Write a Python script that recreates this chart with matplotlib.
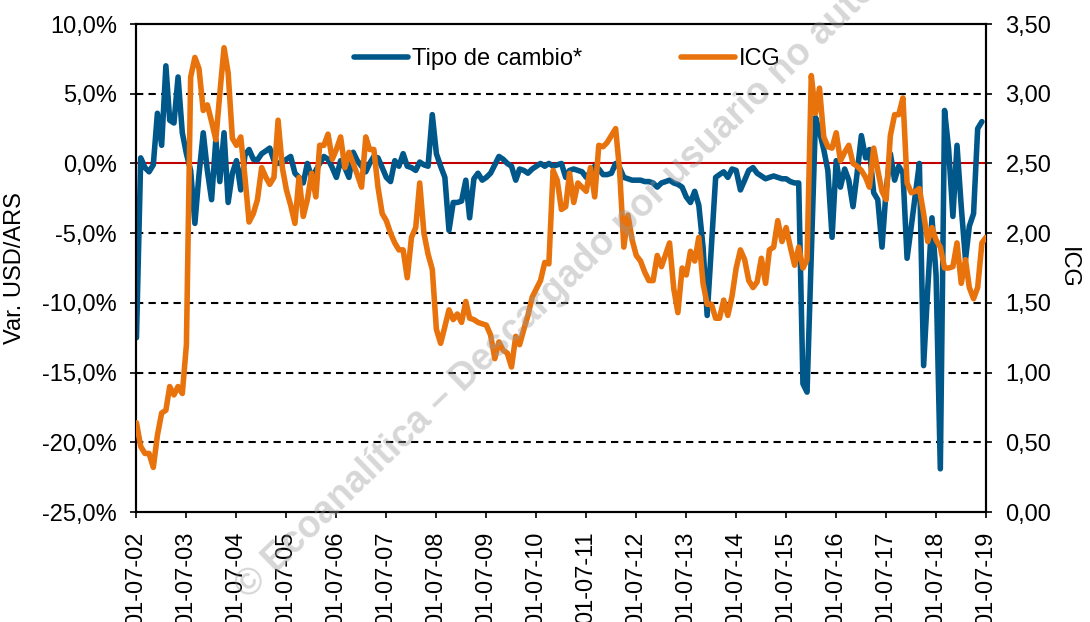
import numpy as np
import pandas as pd
import matplotlib
matplotlib.use("Agg")
import matplotlib.pyplot as plt
import matplotlib.dates as mdates
from matplotlib.ticker import FuncFormatter, MultipleLocator

plt.rcParams['font.family'] = ['Liberation Sans', 'DejaVu Sans']

# ---- data (monthly, starting July 2002) ----
start_date = "2002-07-01"
end_date = "2019-07-01"

tipo_cambio = [
    -12.5, 0.4, -0.3, -0.6, -0.1, 3.6, 1.3, 7.0, 3.1, 2.9,
    6.2, 2.2, 0.7, -0.5, -4.3, -0.8, 2.2, -0.5, -2.6, 1.7,
    -1.3, 2.2, -2.8, -0.7, 0.2, -1.9, 0.6, 1.0, 0.3, 0.25,
    0.7, 0.9, 1.1, 0.2, 0.0, 0.1, 0.3, 0.5, -0.7, -1.0,
    -1.4, 0.0, -1.0, -0.5, 0.0, 0.5, 0.3, -0.3, -1.0, 0.2,
    -0.3, -1.0, 0.8, 0.2, -0.2, -0.6, 0.0, 0.5, 0.4, -0.3,
    -1.0, -1.3, 0.2, -0.2, 0.7, -0.2, -0.3, -0.5, 0.1, -0.1,
    -0.2, 3.5, 0.7, -0.2, -1.0, -4.8, -2.8, -2.8, -2.7, -1.2,
    -3.9, -1.1, -0.7, -1.2, -1.0, -0.7, -0.1, 0.5, 0.3, 0.0,
    -0.2, -1.2, -0.4, -0.5, -0.7, -0.4, -0.2, 0.0, -0.2, 0.0,
    -0.2, -0.1, 0.0, -1.0, -0.5, -0.4, -0.5, -0.6, -1.0, -0.6,
    -0.2, -0.4, -0.8, -0.8, -0.7, 0.0, -0.3, -1.0, -1.1, -1.2,
    -1.2, -1.2, -1.3, -1.3, -1.4, -1.7, -1.4, -1.3, -1.2, -1.4,
    -1.5, -1.7, -2.4, -2.8, -2.0, -3.0, -6.0, -10.9, -6.0, -1.0,
    -0.8, -0.6, -1.0, -0.4, -0.5, -1.9, -1.2, -0.5, -0.3, -0.7,
    -0.9, -1.1, -1.0, -0.9, -1.0, -1.1, -1.1, -1.3, -1.4, -1.4,
    -15.8, -16.4, -6.5, 3.3, 2.3, 1.0, -0.5, -5.3, 0.2, -1.7,
    -0.4, -1.2, -3.1, -0.7, 2.0, 0.4, 1.0, -2.1, -2.6, -6.0,
    -1.9, 0.7, -1.2, -0.2, -0.7, -6.8, -4.5, -2.1, 0.0, -14.5,
    -9.0, -3.9, -8.0, -21.9, 3.8, 1.0, -3.8, 1.3, -3.1, -6.9,
    -4.5, -3.6, 2.5, 3.0,
]

icg = [
    0.64, 0.47, 0.42, 0.42, 0.32, 0.55, 0.71, 0.73, 0.90, 0.84,
    0.90, 0.85, 1.20, 3.12, 3.26, 3.18, 2.88, 2.92, 2.80, 2.67,
    3.00, 3.33, 3.15, 2.68, 2.63, 2.69, 2.40, 2.08, 2.14, 2.24,
    2.47, 2.40, 2.35, 2.40, 2.81, 2.47, 2.31, 2.20, 2.07, 2.40,
    2.12, 2.24, 2.43, 2.26, 2.63, 2.63, 2.71, 2.53, 2.60, 2.69,
    2.47, 2.58, 2.50, 2.42, 2.33, 2.69, 2.60, 2.60, 2.33, 2.14,
    2.09, 2.00, 1.93, 1.88, 1.88, 1.68, 1.97, 2.04, 2.36, 2.00,
    1.85, 1.74, 1.31, 1.21, 1.33, 1.45, 1.38, 1.42, 1.36, 1.51,
    1.39, 1.38, 1.36, 1.35, 1.34, 1.27, 1.10, 1.22, 1.16, 1.14,
    1.04, 1.26, 1.20, 1.31, 1.41, 1.54, 1.60, 1.66, 1.79, 1.78,
    2.45, 2.38, 2.17, 2.19, 2.43, 2.22, 2.36, 2.33, 2.30, 2.47,
    2.26, 2.63, 2.62, 2.65, 2.70, 2.75, 2.45, 1.90, 2.13, 1.95,
    1.84, 1.80, 1.72, 1.66, 1.66, 1.84, 1.76, 1.85, 1.93, 1.60,
    1.43, 1.75, 1.70, 1.87, 1.80, 1.97, 1.64, 1.49, 1.49, 1.39,
    1.39, 1.52, 1.41, 1.55, 1.75, 1.88, 1.81, 1.66, 1.61, 1.65,
    1.82, 1.64, 1.88, 1.90, 2.09, 1.94, 2.04, 1.90, 1.77, 1.90,
    1.75, 1.81, 3.13, 2.86, 3.04, 2.69, 2.62, 2.61, 2.72, 2.52,
    2.58, 2.63, 2.50, 2.48, 2.45, 2.40, 2.33, 2.61, 2.45, 2.30,
    2.24, 2.70, 2.85, 2.85, 2.97, 2.36, 2.29, 2.30, 2.32, 2.14,
    1.94, 2.04, 1.95, 1.90, 1.75, 1.75, 1.76, 1.93, 1.64, 1.81,
    1.61, 1.53, 1.61, 1.93, 1.97,
]

series_labels = ["Tipo de cambio*", "ICG"]
left_label = "Var. USD/ARS"
right_label = "ICG"
watermark = "© Ecoanalítica – Descargado por usuario no autorizado"

dates_tc = pd.date_range(start_date, periods=len(tipo_cambio), freq="MS")
dates_icg = pd.date_range(start_date, periods=len(icg), freq="MS")

BLUE = "#00578A"
ORANGE = "#E8720C"
FS = 17

fig = plt.figure(figsize=(10.9, 6.22), dpi=100)
ax = fig.add_axes([0.1252, 0.1768, 0.7794, 0.7846])
ax2 = ax.twinx()

ax.set_ylim(-25, 10)
ax2.set_ylim(0, 3.5)
ax.set_xlim(pd.Timestamp(start_date), pd.Timestamp(end_date))

# grid
for yv in np.arange(-20, 10, 5):
    if yv != 0:
        ax.axhline(yv, color="black", lw=1.5, ls=(0, (3.5, 2.5)), zorder=1)
ax.axhline(0, color="#C00000", lw=1.5, zorder=2)

l1, = ax.plot(dates_tc, tipo_cambio, color=BLUE, lw=4.0, zorder=3,
              solid_joinstyle="round", solid_capstyle="round", label=series_labels[0])
l2, = ax2.plot(dates_icg, icg, color=ORANGE, lw=4.0, zorder=3,
               solid_joinstyle="round", solid_capstyle="round", label=series_labels[1])

ax.yaxis.set_major_locator(MultipleLocator(5))
ax.yaxis.set_major_formatter(FuncFormatter(lambda v, p: f"{v:.1f}%".replace(".", ",")))
ax2.yaxis.set_major_locator(MultipleLocator(0.5))
ax2.yaxis.set_major_formatter(FuncFormatter(lambda v, p: f"{v:.2f}".replace(".", ",")))

ticks = pd.date_range(start_date, end_date, freq="12MS")
ax.set_xticks(ticks)
ax.xaxis.set_major_formatter(mdates.DateFormatter("%d-%m-%y"))
for lab in ax.get_xticklabels():
    lab.set_rotation(90)

ax.tick_params(axis="x", labelsize=FS, length=4, width=1.2, pad=10, direction="out")
ax.tick_params(axis="y", labelsize=FS, length=4, width=1.2, pad=10, direction="out")
ax2.tick_params(axis="y", labelsize=FS, length=4, width=1.2, pad=10, direction="out")

for a in (ax, ax2):
    for s in a.spines.values():
        s.set_color("black")
        s.set_linewidth(1.5)

ax.set_ylabel(left_label, fontsize=FS, labelpad=12)
ax2.set_ylabel(right_label, fontsize=FS, rotation=270, labelpad=20)

leg = ax2.legend([l1, l2], series_labels, loc="center", bbox_to_anchor=(0.507, 0.928),
                 ncol=2, frameon=False, fontsize=FS, handlelength=2.3,
                 handletextpad=0.15, columnspacing=4.2, borderpad=0)

fig.text(0.228, 0.035, watermark, fontsize=27, fontweight="bold", color="#9a9a9a",
         alpha=0.4, rotation=44, rotation_mode="anchor", ha="left", va="baseline",
         zorder=10)

fig.savefig("out.png", dpi=100)
